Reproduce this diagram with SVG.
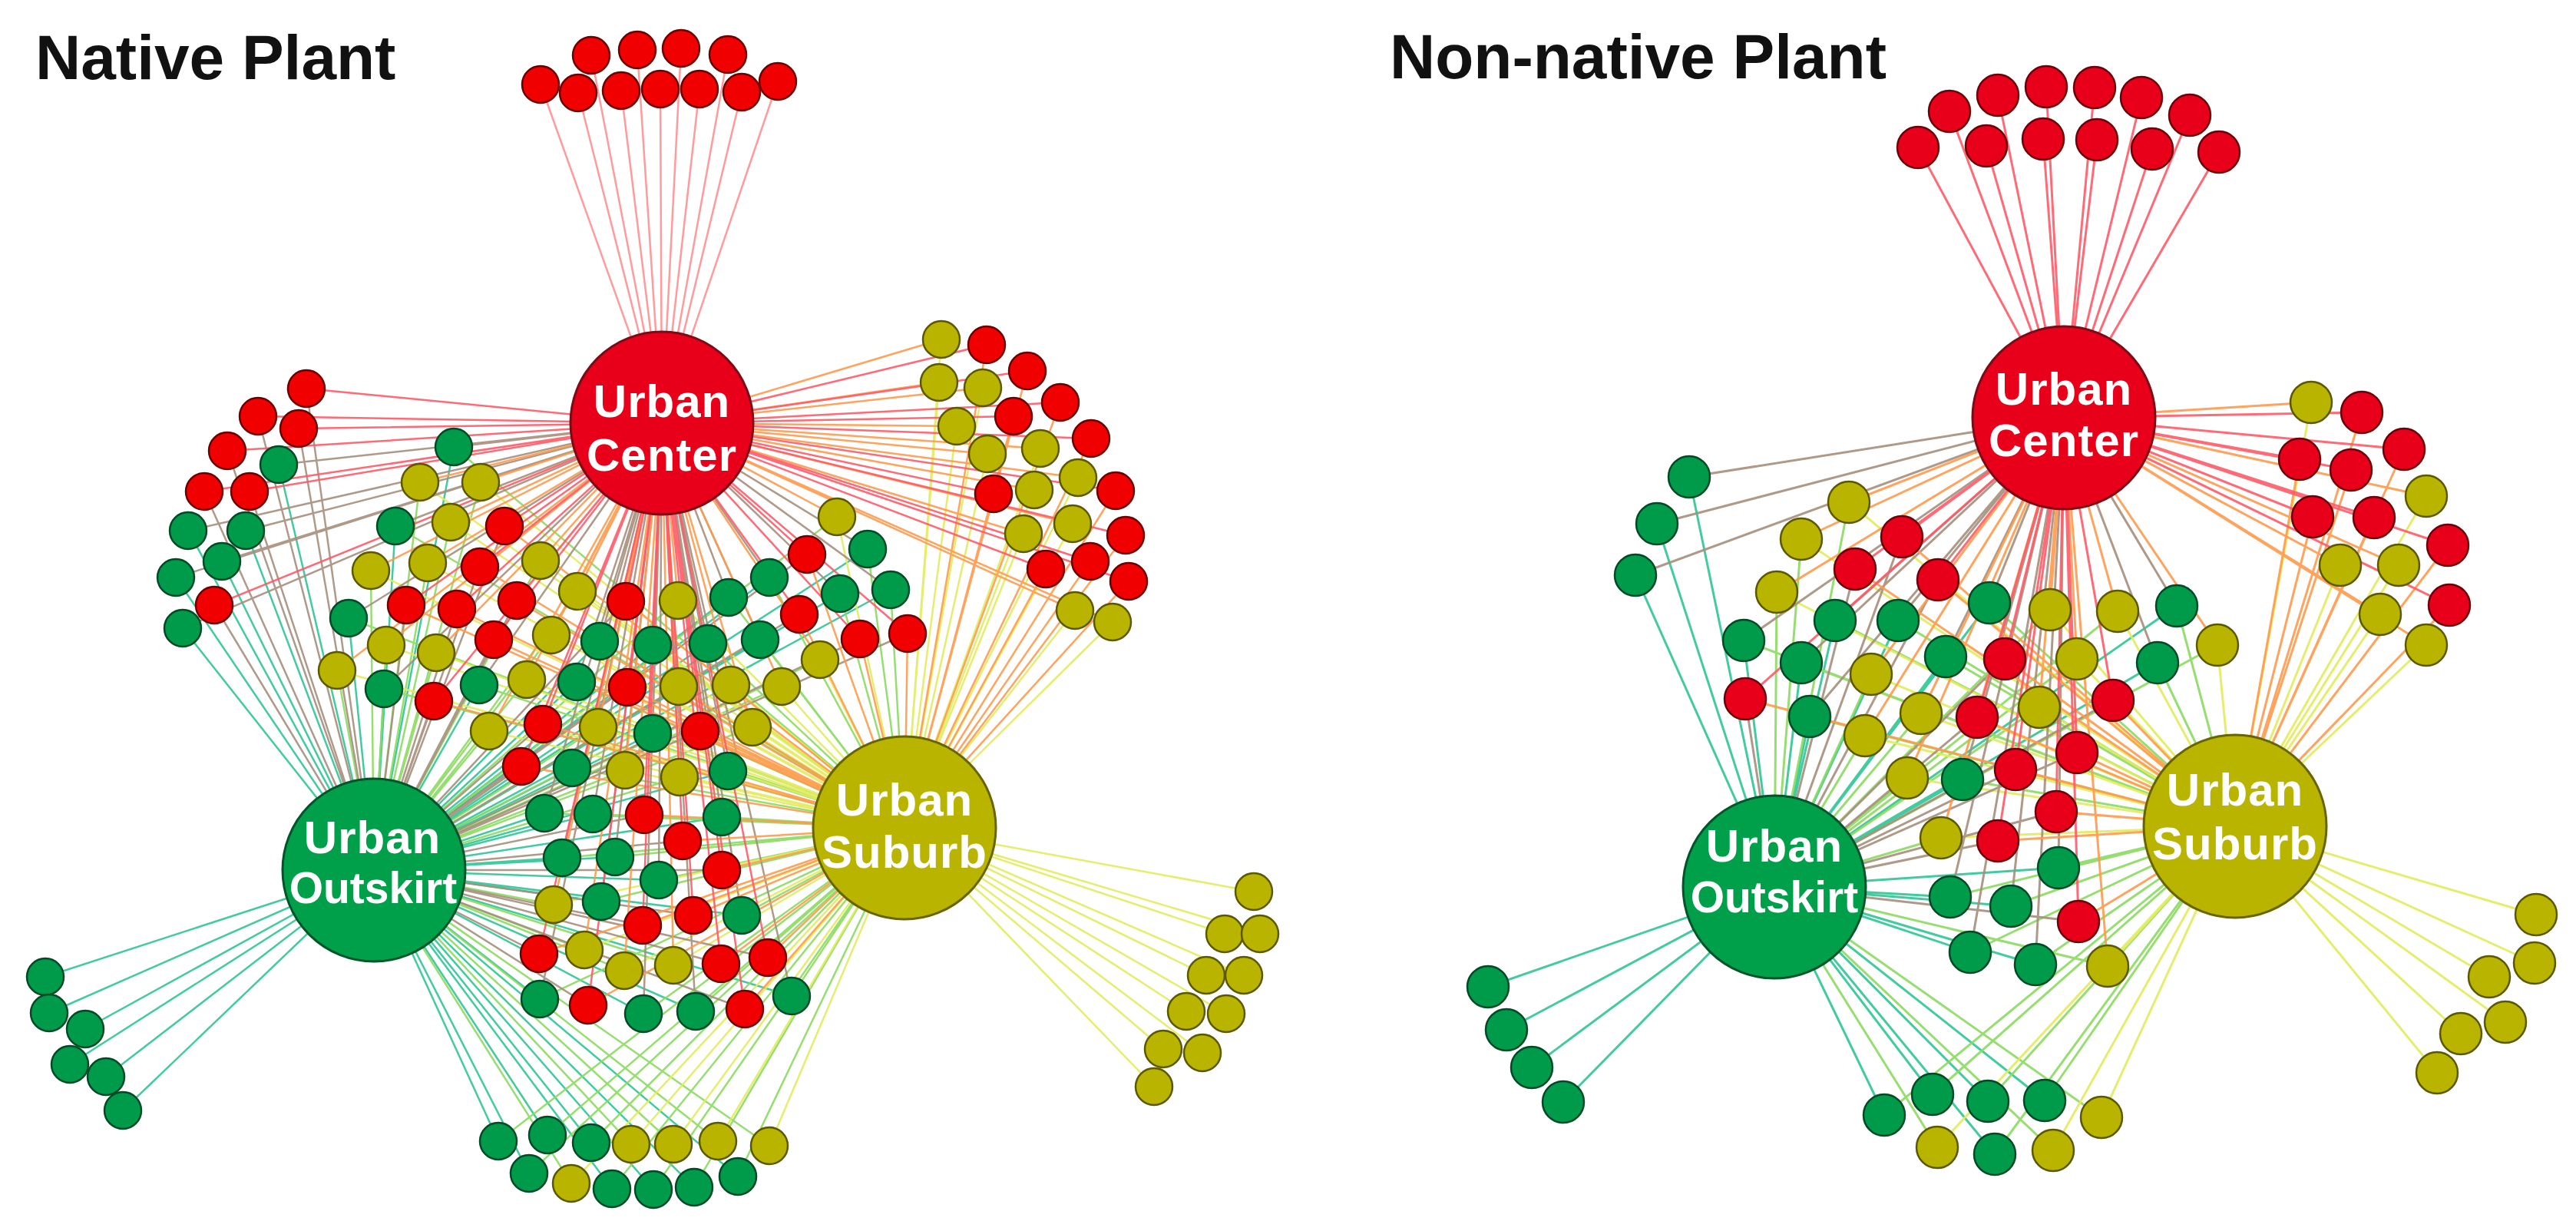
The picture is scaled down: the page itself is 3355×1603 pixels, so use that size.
<svg xmlns="http://www.w3.org/2000/svg" width="3355" height="1603" viewBox="0 0 3355 1603">
<style>
.title{font:bold 82px "Liberation Sans",Arial,sans-serif;fill:#111}
.e path{fill:none;stroke-width:2.5;stroke-opacity:.9}
.m path{stroke-width:3}
.ep{stroke:#ff8f92}
.er{stroke:#ff5a68}
.eo{stroke:#ff9a4c}
.eb{stroke:#a68e7c}
.et{stroke:#2fc596}
.el{stroke:#8cda62}
.ey{stroke:#e2ec5c}
circle{stroke-width:2.5}
.R{fill:#f00000;stroke:#6b0000}
.R2{fill:#e8001a;stroke:#6b0008}
.G{fill:#009b4a;stroke:#004a26}
.Y{fill:#b8b400;stroke:#5c5800}
.HR{fill:#e8001a;stroke:#7d0b15;stroke-width:3}
.HG{fill:#00a04a;stroke:#00562a;stroke-width:3}
.HY{fill:#b9b400;stroke:#686400;stroke-width:3}
.ht{fill:#fff;font:bold 60px "Liberation Sans",Arial,sans-serif;text-anchor:middle;letter-spacing:1px}
.ht.sm{font-size:57px;letter-spacing:0}
</style>
<rect width="3355" height="1603" fill="#fff"/>
<text class="title" x="46" y="103">Native Plant</text>
<text class="title" x="1810" y="102">Non-native Plant</text>
<g id="connectors">
<g class="e" id="native-edges">
<path class="ep" d="M862 551 770 72M862 551 830 65M862 551 887 63M862 551 948 71M862 551 704 110M862 551 753 121M862 551 809 118M862 551 860 116M862 551 911 116M862 551 966 120M862 551 1013 106"/>
<path class="et" d="M487 1133 363 605M487 1133 245 691M487 1133 320 691M487 1133 289 731M487 1133 229 752M487 1133 238 818M487 1133 591 582M487 1133 515 685M487 1133 454 805M487 1133 949 778M487 1133 1002 752M487 1133 1130 715M487 1133 1094 773M487 1133 1160 768M487 1133 781 835M487 1133 850 840M487 1133 922 838M487 1133 990 833M487 1133 500 897M487 1133 624 892M487 1133 751 888M487 1133 850 955M487 1133 745 1000M487 1133 948 1004M487 1133 709 1059M487 1133 772 1060M487 1133 940 1064M487 1133 732 1117M487 1133 801 1116M487 1133 858 1146M487 1133 783 1174M487 1133 966 1192M487 1133 703 1301M487 1133 838 1320M487 1133 906 1317M487 1133 1031 1297M487 1133 649 1486M487 1133 713 1478M487 1133 770 1488M487 1133 689 1528M487 1133 797 1548M487 1133 851 1549M487 1133 904 1546M487 1133 961 1532M487 1133 59 1272M487 1133 64 1319M487 1133 111 1340M487 1133 91 1386M487 1133 138 1402M487 1133 160 1446"/>
<path class="el" d="M487 1133 547 628M487 1133 626 628M487 1133 587 680M487 1133 483 743M487 1133 557 733M487 1133 704 730M487 1133 752 770M487 1133 883 782M487 1133 1090 673M487 1133 503 840M487 1133 568 850M487 1133 718 827M487 1133 1068 859M487 1133 439 873M487 1133 686 885M487 1133 884 894M487 1133 952 892M487 1133 1018 894M487 1133 637 952M487 1133 779 947M487 1133 980 947M487 1133 814 1003M487 1133 885 1012M487 1133 721 1178M487 1133 761 1237M487 1133 813 1264M487 1133 877 1257M487 1133 822 1490M487 1133 877 1490M487 1133 935 1486M487 1133 1002 1492M487 1133 744 1541M1178 1078 591 582M1178 1078 515 685M1178 1078 454 805M1178 1078 949 778M1178 1078 1002 752M1178 1078 1130 715M1178 1078 1094 773M1178 1078 1160 768M1178 1078 781 835M1178 1078 850 840M1178 1078 922 838M1178 1078 990 833M1178 1078 500 897M1178 1078 624 892M1178 1078 751 888M1178 1078 850 955M1178 1078 745 1000M1178 1078 948 1004M1178 1078 709 1059M1178 1078 772 1060M1178 1078 940 1064M1178 1078 732 1117M1178 1078 801 1116M1178 1078 858 1146M1178 1078 783 1174M1178 1078 966 1192M1178 1078 703 1301M1178 1078 838 1320M1178 1078 906 1317M1178 1078 1031 1297M1178 1078 649 1486M1178 1078 713 1478M1178 1078 770 1488M1178 1078 689 1528M1178 1078 797 1548M1178 1078 851 1549M1178 1078 904 1546M1178 1078 961 1532"/>
<path class="ey" d="M1178 1078 1226 442M1178 1078 1223 498M1178 1078 1280 505M1178 1078 1246 555M1178 1078 1286 591M1178 1078 1355 584M1178 1078 1404 622M1178 1078 1347 638M1178 1078 1333 695M1178 1078 1397 682M1178 1078 1400 795M1178 1078 1449 810M1178 1078 547 628M1178 1078 626 628M1178 1078 587 680M1178 1078 483 743M1178 1078 557 733M1178 1078 704 730M1178 1078 752 770M1178 1078 883 782M1178 1078 1090 673M1178 1078 503 840M1178 1078 568 850M1178 1078 718 827M1178 1078 1068 859M1178 1078 439 873M1178 1078 686 885M1178 1078 884 894M1178 1078 952 892M1178 1078 1018 894M1178 1078 637 952M1178 1078 779 947M1178 1078 980 947M1178 1078 814 1003M1178 1078 885 1012M1178 1078 721 1178M1178 1078 761 1237M1178 1078 813 1264M1178 1078 877 1257M1178 1078 822 1490M1178 1078 877 1490M1178 1078 935 1486M1178 1078 1002 1492M1178 1078 744 1541M1178 1078 1633 1161M1178 1078 1595 1216M1178 1078 1641 1216M1178 1078 1571 1270M1178 1078 1620 1270M1178 1078 1545 1317M1178 1078 1597 1320M1178 1078 1515 1366M1178 1078 1566 1371M1178 1078 1503 1415"/>
<path class="eb" d="M862 551 363 605M862 551 245 691M862 551 320 691M862 551 289 731M862 551 229 752M862 551 238 818M862 551 591 582M862 551 515 685M862 551 454 805M862 551 949 778M862 551 1002 752M862 551 1130 715M862 551 1094 773M862 551 1160 768M862 551 781 835M862 551 850 840M862 551 922 838M862 551 990 833M862 551 500 897M862 551 624 892M862 551 751 888M862 551 850 955M862 551 745 1000M862 551 948 1004M862 551 709 1059M862 551 772 1060M862 551 940 1064M862 551 732 1117M862 551 801 1116M862 551 858 1146M862 551 783 1174M862 551 966 1192M862 551 703 1301M862 551 838 1320M862 551 906 1317M862 551 1031 1297M487 1133 399 506M487 1133 336 542M487 1133 389 558M487 1133 296 587M487 1133 266 640M487 1133 325 640M487 1133 279 788M487 1133 657 685M487 1133 625 738M487 1133 529 788M487 1133 595 793M487 1133 673 782M487 1133 815 783M487 1133 1051 722M487 1133 1041 800M487 1133 1120 832M487 1133 1182 825M487 1133 643 833M487 1133 565 913M487 1133 817 895M487 1133 707 943M487 1133 912 952M487 1133 679 998M487 1133 839 1061M487 1133 889 1095M487 1133 940 1133M487 1133 837 1205M487 1133 903 1192M487 1133 702 1242M487 1133 939 1255M487 1133 1000 1247M487 1133 766 1309M487 1133 970 1314"/>
<path class="eo" d="M862 551 1226 442M862 551 1223 498M862 551 1280 505M862 551 1246 555M862 551 1286 591M862 551 1355 584M862 551 1404 622M862 551 1347 638M862 551 1333 695M862 551 1397 682M862 551 1400 795M862 551 1449 810M862 551 547 628M862 551 626 628M862 551 587 680M862 551 483 743M862 551 557 733M862 551 704 730M862 551 752 770M862 551 883 782M862 551 1090 673M862 551 503 840M862 551 568 850M862 551 718 827M862 551 1068 859M862 551 439 873M862 551 686 885M862 551 884 894M862 551 952 892M862 551 1018 894M862 551 637 952M862 551 779 947M862 551 980 947M862 551 814 1003M862 551 885 1012M862 551 721 1178M862 551 761 1237M862 551 813 1264M862 551 877 1257M1178 1078 1285 449M1178 1078 1338 483M1178 1078 1381 524M1178 1078 1320 542M1178 1078 1421 571M1178 1078 1294 643M1178 1078 1453 639M1178 1078 1466 697M1178 1078 1362 741M1178 1078 1420 731M1178 1078 1470 757M1178 1078 657 685M1178 1078 625 738M1178 1078 529 788M1178 1078 595 793M1178 1078 673 782M1178 1078 815 783M1178 1078 1051 722M1178 1078 1041 800M1178 1078 1120 832M1178 1078 1182 825M1178 1078 643 833M1178 1078 565 913M1178 1078 817 895M1178 1078 707 943M1178 1078 912 952M1178 1078 679 998M1178 1078 839 1061M1178 1078 889 1095M1178 1078 940 1133M1178 1078 837 1205M1178 1078 903 1192M1178 1078 702 1242M1178 1078 939 1255M1178 1078 1000 1247M1178 1078 766 1309M1178 1078 970 1314"/>
<path class="er" d="M862 551 399 506M862 551 336 542M862 551 389 558M862 551 296 587M862 551 266 640M862 551 325 640M862 551 279 788M862 551 1285 449M862 551 1338 483M862 551 1381 524M862 551 1320 542M862 551 1421 571M862 551 1294 643M862 551 1453 639M862 551 1466 697M862 551 1362 741M862 551 1420 731M862 551 1470 757M862 551 657 685M862 551 625 738M862 551 529 788M862 551 595 793M862 551 673 782M862 551 815 783M862 551 1051 722M862 551 1041 800M862 551 1120 832M862 551 1182 825M862 551 643 833M862 551 565 913M862 551 817 895M862 551 707 943M862 551 912 952M862 551 679 998M862 551 839 1061M862 551 889 1095M862 551 940 1133M862 551 837 1205M862 551 903 1192M862 551 702 1242M862 551 939 1255M862 551 1000 1247M862 551 766 1309M862 551 970 1314"/>
</g>
<g class="e m" id="nonnative-edges">
<path class="er" d="M2688 544 2539 145M2688 544 2602 124M2688 544 2665 113M2688 544 2728 114M2688 544 2789 127M2688 544 2852 150M2688 544 2498 192M2688 544 2587 190M2688 544 2661 181M2688 544 2731 182M2688 544 2803 194M2688 544 2890 198"/>
<path class="et" d="M2311 1155 2200 621M2311 1155 2158 682M2311 1155 2130 749M2311 1155 2390 808M2311 1155 2472 808M2311 1155 2591 785M2311 1155 2835 789M2311 1155 2271 834M2311 1155 2346 863M2311 1155 2534 855M2311 1155 2810 863M2311 1155 2357 933M2311 1155 2556 1015M2311 1155 2681 1130M2311 1155 2540 1168M2311 1155 2619 1180M2311 1155 2566 1240M2311 1155 2651 1256M2311 1155 2454 1452M2311 1155 2517 1425M2311 1155 2589 1434M2311 1155 2663 1433M2311 1155 2598 1503M2311 1155 1938 1285M2311 1155 1962 1341M2311 1155 1995 1390M2311 1155 2036 1435"/>
<path class="el" d="M2311 1155 2408 654M2311 1155 2346 702M2311 1155 2314 771M2311 1155 2670 794M2311 1155 2758 796M2311 1155 2888 840M2311 1155 2437 878M2311 1155 2705 858M2311 1155 2502 929M2311 1155 2656 921M2311 1155 2429 958M2311 1155 2484 1013M2311 1155 2528 1091M2311 1155 2745 1258M2311 1155 2737 1455M2311 1155 2523 1494M2311 1155 2674 1498M2911 1076 2390 808M2911 1076 2472 808M2911 1076 2591 785M2911 1076 2835 789M2911 1076 2271 834M2911 1076 2346 863M2911 1076 2534 855M2911 1076 2810 863M2911 1076 2357 933M2911 1076 2556 1015M2911 1076 2681 1130M2911 1076 2540 1168M2911 1076 2619 1180M2911 1076 2566 1240M2911 1076 2651 1256M2911 1076 2454 1452M2911 1076 2517 1425M2911 1076 2589 1434M2911 1076 2663 1433M2911 1076 2598 1503"/>
<path class="ey" d="M2911 1076 3010 524M2911 1076 3160 646M2911 1076 3048 736M2911 1076 3124 736M2911 1076 3100 800M2911 1076 3160 840M2911 1076 2408 654M2911 1076 2346 702M2911 1076 2314 771M2911 1076 2670 794M2911 1076 2758 796M2911 1076 2888 840M2911 1076 2437 878M2911 1076 2705 858M2911 1076 2502 929M2911 1076 2656 921M2911 1076 2429 958M2911 1076 2484 1013M2911 1076 2528 1091M2911 1076 2745 1258M2911 1076 2737 1455M2911 1076 2523 1494M2911 1076 2674 1498M2911 1076 3303 1191M2911 1076 3301 1254M2911 1076 3242 1272M2911 1076 3263 1331M2911 1076 3205 1346M2911 1076 3174 1397"/>
<path class="eb" d="M2688 544 2200 621M2688 544 2158 682M2688 544 2130 749M2688 544 2390 808M2688 544 2472 808M2688 544 2591 785M2688 544 2835 789M2688 544 2271 834M2688 544 2346 863M2688 544 2534 855M2688 544 2810 863M2688 544 2357 933M2688 544 2556 1015M2688 544 2681 1130M2688 544 2540 1168M2688 544 2619 1180M2688 544 2566 1240M2688 544 2651 1256M2311 1155 2477 699M2311 1155 2416 741M2311 1155 2524 755M2311 1155 2611 858M2311 1155 2273 910M2311 1155 2575 934M2311 1155 2752 912M2311 1155 2625 1002M2311 1155 2705 980M2311 1155 2678 1057M2311 1155 2602 1095M2311 1155 2707 1200"/>
<path class="eo" d="M2688 544 3010 524M2688 544 3160 646M2688 544 3048 736M2688 544 3124 736M2688 544 3100 800M2688 544 3160 840M2688 544 2408 654M2688 544 2346 702M2688 544 2314 771M2688 544 2670 794M2688 544 2758 796M2688 544 2888 840M2688 544 2437 878M2688 544 2705 858M2688 544 2502 929M2688 544 2656 921M2688 544 2429 958M2688 544 2484 1013M2688 544 2528 1091M2688 544 2745 1258M2911 1076 3076 537M2911 1076 2995 598M2911 1076 3062 612M2911 1076 3131 585M2911 1076 3012 673M2911 1076 3092 674M2911 1076 3188 710M2911 1076 3190 788M2911 1076 2477 699M2911 1076 2416 741M2911 1076 2524 755M2911 1076 2611 858M2911 1076 2273 910M2911 1076 2575 934M2911 1076 2752 912M2911 1076 2625 1002M2911 1076 2705 980M2911 1076 2678 1057M2911 1076 2602 1095M2911 1076 2707 1200"/>
<path class="er" d="M2688 544 3076 537M2688 544 2995 598M2688 544 3062 612M2688 544 3131 585M2688 544 3012 673M2688 544 3092 674M2688 544 3188 710M2688 544 3190 788M2688 544 2477 699M2688 544 2416 741M2688 544 2524 755M2688 544 2611 858M2688 544 2273 910M2688 544 2575 934M2688 544 2752 912M2688 544 2625 1002M2688 544 2705 980M2688 544 2678 1057M2688 544 2602 1095M2688 544 2707 1200"/>
</g>
</g>
<g id="native-nodes">
<g id="n1"><circle class="R" cx="770" cy="72" r="24"/></g>
<g id="n2"><circle class="R" cx="830" cy="65" r="24"/></g>
<g id="n3"><circle class="R" cx="887" cy="63" r="24"/></g>
<g id="n4"><circle class="R" cx="948" cy="71" r="24"/></g>
<g id="n5"><circle class="R" cx="704" cy="110" r="24"/></g>
<g id="n6"><circle class="R" cx="753" cy="121" r="24"/></g>
<g id="n7"><circle class="R" cx="809" cy="118" r="24"/></g>
<g id="n8"><circle class="R" cx="860" cy="116" r="24"/></g>
<g id="n9"><circle class="R" cx="911" cy="116" r="24"/></g>
<g id="n10"><circle class="R" cx="966" cy="120" r="24"/></g>
<g id="n11"><circle class="R" cx="1013" cy="106" r="24"/></g>
<g id="n12"><circle class="R" cx="399" cy="506" r="24"/></g>
<g id="n13"><circle class="R" cx="336" cy="542" r="24"/></g>
<g id="n14"><circle class="R" cx="389" cy="558" r="24"/></g>
<g id="n15"><circle class="R" cx="296" cy="587" r="24"/></g>
<g id="n16"><circle class="G" cx="363" cy="605" r="24"/></g>
<g id="n17"><circle class="R" cx="266" cy="640" r="24"/></g>
<g id="n18"><circle class="R" cx="325" cy="640" r="24"/></g>
<g id="n19"><circle class="G" cx="245" cy="691" r="24"/></g>
<g id="n20"><circle class="G" cx="320" cy="691" r="24"/></g>
<g id="n21"><circle class="G" cx="289" cy="731" r="24"/></g>
<g id="n22"><circle class="G" cx="229" cy="752" r="24"/></g>
<g id="n23"><circle class="R" cx="279" cy="788" r="24"/></g>
<g id="n24"><circle class="G" cx="238" cy="818" r="24"/></g>
<g id="n25"><circle class="Y" cx="1226" cy="442" r="24"/></g>
<g id="n26"><circle class="R" cx="1285" cy="449" r="24"/></g>
<g id="n27"><circle class="Y" cx="1223" cy="498" r="24"/></g>
<g id="n28"><circle class="Y" cx="1280" cy="505" r="24"/></g>
<g id="n29"><circle class="R" cx="1338" cy="483" r="24"/></g>
<g id="n30"><circle class="R" cx="1381" cy="524" r="24"/></g>
<g id="n31"><circle class="R" cx="1320" cy="542" r="24"/></g>
<g id="n32"><circle class="Y" cx="1246" cy="555" r="24"/></g>
<g id="n33"><circle class="R" cx="1421" cy="571" r="24"/></g>
<g id="n34"><circle class="Y" cx="1286" cy="591" r="24"/></g>
<g id="n35"><circle class="Y" cx="1355" cy="584" r="24"/></g>
<g id="n36"><circle class="Y" cx="1404" cy="622" r="24"/></g>
<g id="n37"><circle class="R" cx="1294" cy="643" r="24"/></g>
<g id="n38"><circle class="Y" cx="1347" cy="638" r="24"/></g>
<g id="n39"><circle class="R" cx="1453" cy="639" r="24"/></g>
<g id="n40"><circle class="Y" cx="1333" cy="695" r="24"/></g>
<g id="n41"><circle class="Y" cx="1397" cy="682" r="24"/></g>
<g id="n42"><circle class="R" cx="1466" cy="697" r="24"/></g>
<g id="n43"><circle class="R" cx="1362" cy="741" r="24"/></g>
<g id="n44"><circle class="R" cx="1420" cy="731" r="24"/></g>
<g id="n45"><circle class="R" cx="1470" cy="757" r="24"/></g>
<g id="n46"><circle class="Y" cx="1400" cy="795" r="24"/></g>
<g id="n47"><circle class="Y" cx="1449" cy="810" r="24"/></g>
<g id="n48"><circle class="G" cx="591" cy="582" r="24"/></g>
<g id="n49"><circle class="Y" cx="547" cy="628" r="24"/></g>
<g id="n50"><circle class="Y" cx="626" cy="628" r="24"/></g>
<g id="n51"><circle class="G" cx="515" cy="685" r="24"/></g>
<g id="n52"><circle class="Y" cx="587" cy="680" r="24"/></g>
<g id="n53"><circle class="R" cx="657" cy="685" r="24"/></g>
<g id="n54"><circle class="Y" cx="483" cy="743" r="24"/></g>
<g id="n55"><circle class="Y" cx="557" cy="733" r="24"/></g>
<g id="n56"><circle class="R" cx="625" cy="738" r="24"/></g>
<g id="n57"><circle class="Y" cx="704" cy="730" r="24"/></g>
<g id="n58"><circle class="G" cx="454" cy="805" r="24"/></g>
<g id="n59"><circle class="R" cx="529" cy="788" r="24"/></g>
<g id="n60"><circle class="R" cx="595" cy="793" r="24"/></g>
<g id="n61"><circle class="R" cx="673" cy="782" r="24"/></g>
<g id="n62"><circle class="Y" cx="752" cy="770" r="24"/></g>
<g id="n63"><circle class="R" cx="815" cy="783" r="24"/></g>
<g id="n64"><circle class="Y" cx="883" cy="782" r="24"/></g>
<g id="n65"><circle class="G" cx="949" cy="778" r="24"/></g>
<g id="n66"><circle class="G" cx="1002" cy="752" r="24"/></g>
<g id="n67"><circle class="R" cx="1051" cy="722" r="24"/></g>
<g id="n68"><circle class="Y" cx="1090" cy="673" r="24"/></g>
<g id="n69"><circle class="G" cx="1130" cy="715" r="24"/></g>
<g id="n70"><circle class="G" cx="1094" cy="773" r="24"/></g>
<g id="n71"><circle class="G" cx="1160" cy="768" r="24"/></g>
<g id="n72"><circle class="R" cx="1041" cy="800" r="24"/></g>
<g id="n73"><circle class="R" cx="1120" cy="832" r="24"/></g>
<g id="n74"><circle class="R" cx="1182" cy="825" r="24"/></g>
<g id="n75"><circle class="Y" cx="503" cy="840" r="24"/></g>
<g id="n76"><circle class="Y" cx="568" cy="850" r="24"/></g>
<g id="n77"><circle class="R" cx="643" cy="833" r="24"/></g>
<g id="n78"><circle class="Y" cx="718" cy="827" r="24"/></g>
<g id="n79"><circle class="G" cx="781" cy="835" r="24"/></g>
<g id="n80"><circle class="G" cx="850" cy="840" r="24"/></g>
<g id="n81"><circle class="G" cx="922" cy="838" r="24"/></g>
<g id="n82"><circle class="G" cx="990" cy="833" r="24"/></g>
<g id="n83"><circle class="Y" cx="1068" cy="859" r="24"/></g>
<g id="n84"><circle class="Y" cx="439" cy="873" r="24"/></g>
<g id="n85"><circle class="G" cx="500" cy="897" r="24"/></g>
<g id="n86"><circle class="R" cx="565" cy="913" r="24"/></g>
<g id="n87"><circle class="G" cx="624" cy="892" r="24"/></g>
<g id="n88"><circle class="Y" cx="686" cy="885" r="24"/></g>
<g id="n89"><circle class="G" cx="751" cy="888" r="24"/></g>
<g id="n90"><circle class="R" cx="817" cy="895" r="24"/></g>
<g id="n91"><circle class="Y" cx="884" cy="894" r="24"/></g>
<g id="n92"><circle class="Y" cx="952" cy="892" r="24"/></g>
<g id="n93"><circle class="Y" cx="1018" cy="894" r="24"/></g>
<g id="n94"><circle class="Y" cx="637" cy="952" r="24"/></g>
<g id="n95"><circle class="R" cx="707" cy="943" r="24"/></g>
<g id="n96"><circle class="Y" cx="779" cy="947" r="24"/></g>
<g id="n97"><circle class="G" cx="850" cy="955" r="24"/></g>
<g id="n98"><circle class="R" cx="912" cy="952" r="24"/></g>
<g id="n99"><circle class="Y" cx="980" cy="947" r="24"/></g>
<g id="n100"><circle class="R" cx="679" cy="998" r="24"/></g>
<g id="n101"><circle class="G" cx="745" cy="1000" r="24"/></g>
<g id="n102"><circle class="Y" cx="814" cy="1003" r="24"/></g>
<g id="n103"><circle class="Y" cx="885" cy="1012" r="24"/></g>
<g id="n104"><circle class="G" cx="948" cy="1004" r="24"/></g>
<g id="n105"><circle class="G" cx="709" cy="1059" r="24"/></g>
<g id="n106"><circle class="G" cx="772" cy="1060" r="24"/></g>
<g id="n107"><circle class="R" cx="839" cy="1061" r="24"/></g>
<g id="n108"><circle class="G" cx="940" cy="1064" r="24"/></g>
<g id="n109"><circle class="R" cx="889" cy="1095" r="24"/></g>
<g id="n110"><circle class="G" cx="732" cy="1117" r="24"/></g>
<g id="n111"><circle class="G" cx="801" cy="1116" r="24"/></g>
<g id="n112"><circle class="R" cx="940" cy="1133" r="24"/></g>
<g id="n113"><circle class="G" cx="858" cy="1146" r="24"/></g>
<g id="n114"><circle class="Y" cx="721" cy="1178" r="24"/></g>
<g id="n115"><circle class="G" cx="783" cy="1174" r="24"/></g>
<g id="n116"><circle class="R" cx="837" cy="1205" r="24"/></g>
<g id="n117"><circle class="R" cx="903" cy="1192" r="24"/></g>
<g id="n118"><circle class="G" cx="966" cy="1192" r="24"/></g>
<g id="n119"><circle class="R" cx="702" cy="1242" r="24"/></g>
<g id="n120"><circle class="Y" cx="761" cy="1237" r="24"/></g>
<g id="n121"><circle class="Y" cx="813" cy="1264" r="24"/></g>
<g id="n122"><circle class="Y" cx="877" cy="1257" r="24"/></g>
<g id="n123"><circle class="R" cx="939" cy="1255" r="24"/></g>
<g id="n124"><circle class="R" cx="1000" cy="1247" r="24"/></g>
<g id="n125"><circle class="G" cx="703" cy="1301" r="24"/></g>
<g id="n126"><circle class="R" cx="766" cy="1309" r="24"/></g>
<g id="n127"><circle class="G" cx="838" cy="1320" r="24"/></g>
<g id="n128"><circle class="G" cx="906" cy="1317" r="24"/></g>
<g id="n129"><circle class="R" cx="970" cy="1314" r="24"/></g>
<g id="n130"><circle class="G" cx="1031" cy="1297" r="24"/></g>
<g id="n131"><circle class="G" cx="649" cy="1486" r="24"/></g>
<g id="n132"><circle class="G" cx="713" cy="1478" r="24"/></g>
<g id="n133"><circle class="G" cx="770" cy="1488" r="24"/></g>
<g id="n134"><circle class="Y" cx="822" cy="1490" r="24"/></g>
<g id="n135"><circle class="Y" cx="877" cy="1490" r="24"/></g>
<g id="n136"><circle class="Y" cx="935" cy="1486" r="24"/></g>
<g id="n137"><circle class="Y" cx="1002" cy="1492" r="24"/></g>
<g id="n138"><circle class="G" cx="689" cy="1528" r="24"/></g>
<g id="n139"><circle class="Y" cx="744" cy="1541" r="24"/></g>
<g id="n140"><circle class="G" cx="797" cy="1548" r="24"/></g>
<g id="n141"><circle class="G" cx="851" cy="1549" r="24"/></g>
<g id="n142"><circle class="G" cx="904" cy="1546" r="24"/></g>
<g id="n143"><circle class="G" cx="961" cy="1532" r="24"/></g>
<g id="n144"><circle class="G" cx="59" cy="1272" r="24"/></g>
<g id="n145"><circle class="G" cx="64" cy="1319" r="24"/></g>
<g id="n146"><circle class="G" cx="111" cy="1340" r="24"/></g>
<g id="n147"><circle class="G" cx="91" cy="1386" r="24"/></g>
<g id="n148"><circle class="G" cx="138" cy="1402" r="24"/></g>
<g id="n149"><circle class="G" cx="160" cy="1446" r="24"/></g>
<g id="n150"><circle class="Y" cx="1633" cy="1161" r="24"/></g>
<g id="n151"><circle class="Y" cx="1595" cy="1216" r="24"/></g>
<g id="n152"><circle class="Y" cx="1641" cy="1216" r="24"/></g>
<g id="n153"><circle class="Y" cx="1571" cy="1270" r="24"/></g>
<g id="n154"><circle class="Y" cx="1620" cy="1270" r="24"/></g>
<g id="n155"><circle class="Y" cx="1545" cy="1317" r="24"/></g>
<g id="n156"><circle class="Y" cx="1597" cy="1320" r="24"/></g>
<g id="n157"><circle class="Y" cx="1515" cy="1366" r="24"/></g>
<g id="n158"><circle class="Y" cx="1566" cy="1371" r="24"/></g>
<g id="n159"><circle class="Y" cx="1503" cy="1415" r="24"/></g>
</g>
<g id="nonnative-nodes">
<g id="m1"><circle class="R2" cx="2539" cy="145" r="27"/></g>
<g id="m2"><circle class="R2" cx="2602" cy="124" r="27"/></g>
<g id="m3"><circle class="R2" cx="2665" cy="113" r="27"/></g>
<g id="m4"><circle class="R2" cx="2728" cy="114" r="27"/></g>
<g id="m5"><circle class="R2" cx="2789" cy="127" r="27"/></g>
<g id="m6"><circle class="R2" cx="2852" cy="150" r="27"/></g>
<g id="m7"><circle class="R2" cx="2498" cy="192" r="27"/></g>
<g id="m8"><circle class="R2" cx="2587" cy="190" r="27"/></g>
<g id="m9"><circle class="R2" cx="2661" cy="181" r="27"/></g>
<g id="m10"><circle class="R2" cx="2731" cy="182" r="27"/></g>
<g id="m11"><circle class="R2" cx="2803" cy="194" r="27"/></g>
<g id="m12"><circle class="R2" cx="2890" cy="198" r="27"/></g>
<g id="m13"><circle class="G" cx="2200" cy="621" r="27"/></g>
<g id="m14"><circle class="G" cx="2158" cy="682" r="27"/></g>
<g id="m15"><circle class="G" cx="2130" cy="749" r="27"/></g>
<g id="m16"><circle class="G" cx="1938" cy="1285" r="27"/></g>
<g id="m17"><circle class="G" cx="1962" cy="1341" r="27"/></g>
<g id="m18"><circle class="G" cx="1995" cy="1390" r="27"/></g>
<g id="m19"><circle class="G" cx="2036" cy="1435" r="27"/></g>
<g id="m20"><circle class="Y" cx="3010" cy="524" r="27"/></g>
<g id="m21"><circle class="R2" cx="3076" cy="537" r="27"/></g>
<g id="m22"><circle class="R2" cx="2995" cy="598" r="27"/></g>
<g id="m23"><circle class="R2" cx="3062" cy="612" r="27"/></g>
<g id="m24"><circle class="R2" cx="3131" cy="585" r="27"/></g>
<g id="m25"><circle class="Y" cx="3160" cy="646" r="27"/></g>
<g id="m26"><circle class="R2" cx="3012" cy="673" r="27"/></g>
<g id="m27"><circle class="R2" cx="3092" cy="674" r="27"/></g>
<g id="m28"><circle class="R2" cx="3188" cy="710" r="27"/></g>
<g id="m29"><circle class="Y" cx="3048" cy="736" r="27"/></g>
<g id="m30"><circle class="Y" cx="3124" cy="736" r="27"/></g>
<g id="m31"><circle class="R2" cx="3190" cy="788" r="27"/></g>
<g id="m32"><circle class="Y" cx="3100" cy="800" r="27"/></g>
<g id="m33"><circle class="Y" cx="3160" cy="840" r="27"/></g>
<g id="m34"><circle class="Y" cx="2408" cy="654" r="27"/></g>
<g id="m35"><circle class="Y" cx="2346" cy="702" r="27"/></g>
<g id="m36"><circle class="R2" cx="2477" cy="699" r="27"/></g>
<g id="m37"><circle class="R2" cx="2416" cy="741" r="27"/></g>
<g id="m38"><circle class="R2" cx="2524" cy="755" r="27"/></g>
<g id="m39"><circle class="Y" cx="2314" cy="771" r="27"/></g>
<g id="m40"><circle class="G" cx="2390" cy="808" r="27"/></g>
<g id="m41"><circle class="G" cx="2472" cy="808" r="27"/></g>
<g id="m42"><circle class="G" cx="2591" cy="785" r="27"/></g>
<g id="m43"><circle class="Y" cx="2670" cy="794" r="27"/></g>
<g id="m44"><circle class="Y" cx="2758" cy="796" r="27"/></g>
<g id="m45"><circle class="G" cx="2835" cy="789" r="27"/></g>
<g id="m46"><circle class="Y" cx="2888" cy="840" r="27"/></g>
<g id="m47"><circle class="G" cx="2271" cy="834" r="27"/></g>
<g id="m48"><circle class="G" cx="2346" cy="863" r="27"/></g>
<g id="m49"><circle class="Y" cx="2437" cy="878" r="27"/></g>
<g id="m50"><circle class="G" cx="2534" cy="855" r="27"/></g>
<g id="m51"><circle class="R2" cx="2611" cy="858" r="27"/></g>
<g id="m52"><circle class="Y" cx="2705" cy="858" r="27"/></g>
<g id="m53"><circle class="G" cx="2810" cy="863" r="27"/></g>
<g id="m54"><circle class="R2" cx="2273" cy="910" r="27"/></g>
<g id="m55"><circle class="G" cx="2357" cy="933" r="27"/></g>
<g id="m56"><circle class="Y" cx="2502" cy="929" r="27"/></g>
<g id="m57"><circle class="R2" cx="2575" cy="934" r="27"/></g>
<g id="m58"><circle class="Y" cx="2656" cy="921" r="27"/></g>
<g id="m59"><circle class="R2" cx="2752" cy="912" r="27"/></g>
<g id="m60"><circle class="Y" cx="2429" cy="958" r="27"/></g>
<g id="m61"><circle class="Y" cx="2484" cy="1013" r="27"/></g>
<g id="m62"><circle class="G" cx="2556" cy="1015" r="27"/></g>
<g id="m63"><circle class="R2" cx="2625" cy="1002" r="27"/></g>
<g id="m64"><circle class="R2" cx="2705" cy="980" r="27"/></g>
<g id="m65"><circle class="R2" cx="2678" cy="1057" r="27"/></g>
<g id="m66"><circle class="Y" cx="2528" cy="1091" r="27"/></g>
<g id="m67"><circle class="R2" cx="2602" cy="1095" r="27"/></g>
<g id="m68"><circle class="G" cx="2681" cy="1130" r="27"/></g>
<g id="m69"><circle class="G" cx="2540" cy="1168" r="27"/></g>
<g id="m70"><circle class="G" cx="2619" cy="1180" r="27"/></g>
<g id="m71"><circle class="R2" cx="2707" cy="1200" r="27"/></g>
<g id="m72"><circle class="G" cx="2566" cy="1240" r="27"/></g>
<g id="m73"><circle class="G" cx="2651" cy="1256" r="27"/></g>
<g id="m74"><circle class="Y" cx="2745" cy="1258" r="27"/></g>
<g id="m75"><circle class="G" cx="2454" cy="1452" r="27"/></g>
<g id="m76"><circle class="G" cx="2517" cy="1425" r="27"/></g>
<g id="m77"><circle class="G" cx="2589" cy="1434" r="27"/></g>
<g id="m78"><circle class="G" cx="2663" cy="1433" r="27"/></g>
<g id="m79"><circle class="Y" cx="2737" cy="1455" r="27"/></g>
<g id="m80"><circle class="Y" cx="2523" cy="1494" r="27"/></g>
<g id="m81"><circle class="G" cx="2598" cy="1503" r="27"/></g>
<g id="m82"><circle class="Y" cx="2674" cy="1498" r="27"/></g>
<g id="m83"><circle class="Y" cx="3303" cy="1191" r="27"/></g>
<g id="m84"><circle class="Y" cx="3301" cy="1254" r="27"/></g>
<g id="m85"><circle class="Y" cx="3242" cy="1272" r="27"/></g>
<g id="m86"><circle class="Y" cx="3263" cy="1331" r="27"/></g>
<g id="m87"><circle class="Y" cx="3205" cy="1346" r="27"/></g>
<g id="m88"><circle class="Y" cx="3174" cy="1397" r="27"/></g>
</g>
<g id="hubs">
<g id="n-center"><circle class="HR" cx="862" cy="551" r="119"/><text class="ht" x="862" y="543">Urban</text><text class="ht" x="862" y="613">Center</text></g>
<g id="n-outskirt"><circle class="HG" cx="487" cy="1133" r="119"/><text class="ht" x="485" y="1111">Urban</text><text class="ht sm" x="486" y="1176">Outskirt</text></g>
<g id="n-suburb"><circle class="HY" cx="1178" cy="1078" r="119"/><text class="ht" x="1178" y="1062">Urban</text><text class="ht" x="1178" y="1130">Suburb</text></g>
<g id="m-center"><circle class="HR" cx="2688" cy="544" r="119"/><text class="ht" x="2688" y="527">Urban</text><text class="ht" x="2688" y="594">Center</text></g>
<g id="m-outskirt"><circle class="HG" cx="2311" cy="1155" r="119"/><text class="ht" x="2311" y="1122">Urban</text><text class="ht sm" x="2311" y="1188">Outskirt</text></g>
<g id="m-suburb"><circle class="HY" cx="2911" cy="1076" r="119"/><text class="ht" x="2911" y="1049">Urban</text><text class="ht" x="2911" y="1119">Suburb</text></g>
</g>
</svg>
